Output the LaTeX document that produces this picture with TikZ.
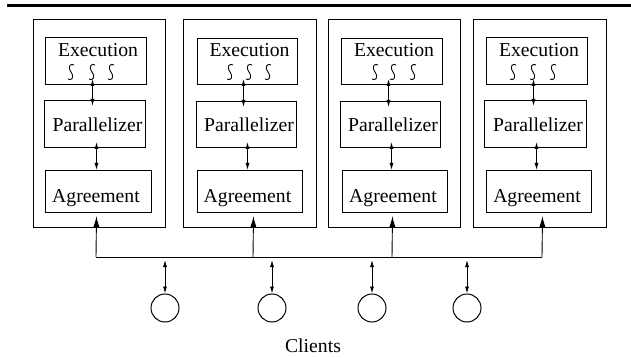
\documentclass[tikz,border=0pt]{standalone}
\usepackage{fontspec}
\setmainfont{Liberation Serif}
\usetikzlibrary{arrows.meta}
\begin{document}
\begin{tikzpicture}[x=1pt,y=-1pt,
  box/.style={draw,line width=1pt,inner sep=0pt,anchor=north west},
  txt/.style={font=\fontsize{19.7}{23}\selectfont,inner sep=0pt,anchor=base},
  tw/.style={line width=0.85pt,{Latex[length=7pt,width=4pt]}-{Latex[length=7pt,width=4pt]}},
  up/.style={line width=0.9pt,-{Latex[length=11pt,width=6pt]}},
  client/.style={draw,circle,line width=1pt,minimum size=28pt,inner sep=0pt},
  squig/.pic={\draw[line width=0.9pt] (3,-7) .. controls (0,-9) and (-4,-6) .. (0,0) .. controls (4,6) and (0,9) .. (-3,7);}
]
\useasboundingbox (0,0) rectangle (631,358);
\draw[line width=3.5pt] (7,5.5) -- (631,5.5);

% outer boxes
\node[box,minimum width=132pt,minimum height=208pt] (out1) at (33,19) {};
\node[box,minimum width=133pt,minimum height=208pt] (out2) at (183,19) {};
\node[box,minimum width=132pt,minimum height=208pt] (out3) at (328,19) {};
\node[box,minimum width=133pt,minimum height=208pt] (out4) at (473,19) {};

% execution
\node[box,minimum width=101pt,minimum height=47pt] (exec1) at (45,37) {};
\node[box,minimum width=100pt,minimum height=46pt] (exec2) at (197,38) {};
\node[box,minimum width=101pt,minimum height=46pt] (exec3) at (341,38) {};
\node[box,minimum width=101pt,minimum height=47pt] (exec4) at (486,37) {};
% parallelizer
\node[box,minimum width=101pt,minimum height=47pt] (par1) at (44,100) {};
\node[box,minimum width=100pt,minimum height=46pt] (par2) at (196,101) {};
\node[box,minimum width=100pt,minimum height=46pt] (par3) at (340,101) {};
\node[box,minimum width=102pt,minimum height=47pt] (par4) at (484,100) {};
% agreement
\node[box,minimum width=106pt,minimum height=42pt] (agr1) at (45,170) {};
\node[box,minimum width=105pt,minimum height=42pt] (agr2) at (197,170) {};
\node[box,minimum width=105pt,minimum height=42pt] (agr3) at (342,170) {};
\node[box,minimum width=105pt,minimum height=42pt] (agr4) at (486,170) {};

% texts
\node[txt] (te1) at (98,57) {Execution};
\node[txt] (te2) at (249.5,57) {Execution};
\node[txt] (te3) at (394,57) {Execution};
\node[txt] (te4) at (539,57) {Execution};
\node[txt] (tp1) at (97.5,132) {Parallelizer};
\node[txt] (tp2) at (249,132) {Parallelizer};
\node[txt] (tp3) at (393,132) {Parallelizer};
\node[txt] (tp4) at (538,132) {Parallelizer};
\node[txt] (ta1) at (96,202) {Agreement};
\node[txt] (ta2) at (247.5,202) {Agreement};
\node[txt] (ta3) at (393,202) {Agreement};
\node[txt] (ta4) at (537,202) {Agreement};

% threads
\foreach \x in {71,92,111,230,249,268,375,393,413,513,533,553}
  \pic at (\x,72) {squig};

% exec <-> parallelizer
\draw[tw] ([xshift=-3.5pt,yshift=6pt]exec1.south) -- ([xshift=-2.5pt,yshift=-6pt]par1.north);
\draw[tw] ([xshift=-4pt,yshift=6pt]exec2.south) -- ([xshift=-3pt,yshift=-6pt]par2.north);
\draw[tw] ([xshift=-3.5pt,yshift=6pt]exec3.south) -- ([xshift=-2pt,yshift=-6pt]par3.north);
\draw[tw] ([xshift=-3.5pt,yshift=6pt]exec4.south) -- ([xshift=-2pt,yshift=-6pt]par4.north);
% parallelizer <-> agreement
\draw[tw] ([xshift=1.5pt,yshift=6pt]par1.south) -- ([xshift=-2pt]agr1.north);
\draw[tw] ([xshift=1pt,yshift=6pt]par2.south) -- ([xshift=-2.5pt]agr2.north);
\draw[tw] ([xshift=1pt,yshift=6pt]par3.south) -- ([xshift=-3.5pt]agr3.north);
\draw[tw] ([xshift=1pt,yshift=6pt]par4.south) -- ([xshift=-2.5pt]agr4.north);

% bus
\coordinate (bus1) at (96,257);
\coordinate (bus2) at (253,257);
\coordinate (bus3) at (392,257);
\coordinate (bus4) at (542,257);
\draw[line width=1pt] (bus1) -- (bus4);
\draw[up] (bus1) -- ([xshift=-2pt,yshift=-3pt]agr1.south);
\draw[up] (bus2) -- ([xshift=3.5pt,yshift=-3pt]agr2.south);
\draw[up] (bus3) -- ([xshift=-2.5pt,yshift=-3pt]agr3.south);
\draw[up] (bus4) -- ([xshift=3.5pt,yshift=-3pt]agr4.south);

% clients
\node[client] (cl1) at (165,308) {};
\node[client] (cl2) at (272,308) {};
\node[client] (cl3) at (372,308) {};
\node[client] (cl4) at (467,308) {};
\coordinate (ca1) at (165,260);
\coordinate (ca2) at (272,260);
\coordinate (ca3) at (372,260);
\coordinate (ca4) at (467,260);
\draw[tw] (ca1) -- (cl1.north);
\draw[tw] (ca2) -- (cl2.north);
\draw[tw] (ca3) -- (cl3.north);
\draw[tw] (ca4) -- (cl4.north);
\node[txt] (clients) at (313,352) {Clients};
\end{tikzpicture}
\end{document}
